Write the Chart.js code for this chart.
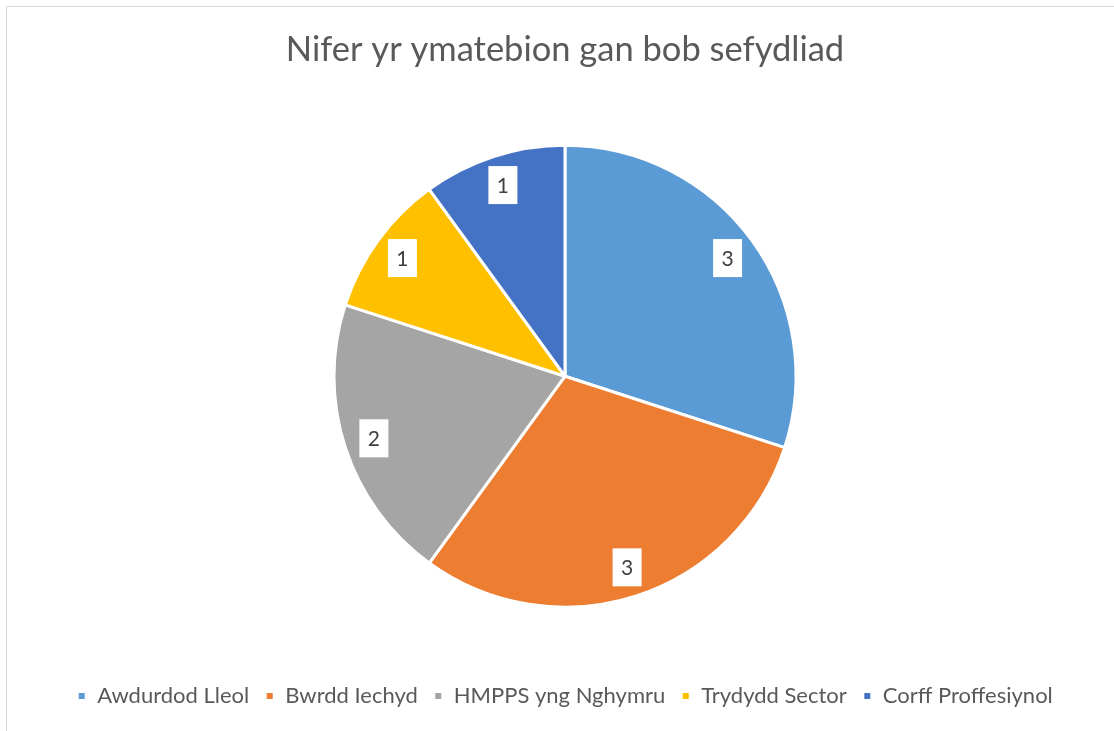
<!DOCTYPE html>
<html>
<head>
<meta charset="utf-8">
<script src="https://cdn.jsdelivr.net/npm/chart.js@4"></script>
<style>
  html, body { margin: 0; padding: 0; background: #fff; overflow: hidden; }
  #frame {
    position: absolute; left: 6px; top: 6px; width: 1130px; height: 750px;
    border: 1px solid #d9d9d9; box-sizing: border-box;
  }
  #wrap { position: absolute; left: 0; top: 0; width: 1114px; height: 731px; }
</style>
</head>
<body>
<div id="frame"></div>
<div id="wrap"><canvas id="pie"></canvas></div>
<script>
// ── Data ────────────────────────────────────────────
const titleText = 'Nifer yr ymatebion gan bob sefydliad'
const categories = ['Awdurdod Lleol', 'Bwrdd Iechyd', 'HMPPS yng Nghymru', 'Trydydd Sector', 'Corff Proffesiynol']
const responses = [3, 3, 2, 1, 1]
const sliceColors = ['#5b9bd5', '#ed7d31', '#a5a5a5', '#ffc000', '#4472c4']

// ── Data labels: white box with the value, inside each slice ──
const valueBoxes = {
  id: 'valueBoxes',
  afterDatasetsDraw(chart) {
    const { ctx } = chart
    const meta = chart.getDatasetMeta(0)
    ctx.save()
    ctx.font = '21px Lato, "Open Sans", sans-serif'
    ctx.textAlign = 'center'
    ctx.textBaseline = 'middle'
    meta.data.forEach((arc, i) => {
      const { x, y, startAngle, endAngle, outerRadius } = arc.getProps(['x', 'y', 'startAngle', 'endAngle', 'outerRadius'], true)
      const mid = (startAngle + endAngle) / 2
      const r = outerRadius * 0.87
      const px = x + Math.cos(mid) * r
      const py = y + Math.sin(mid) * r
      ctx.fillStyle = '#ffffff'
      ctx.fillRect(px - 14.5, py - 19, 29, 38)
      ctx.fillStyle = '#404040'
      ctx.fillText(String(chart.data.datasets[0].data[i]), px, py + 1)
    })
    ctx.restore()
  },
}

new Chart(document.getElementById('pie'), {
  type: 'pie',
  data: {
    labels: categories,
    datasets: [{
      data: responses,
      backgroundColor: sliceColors,
      borderColor: '#ffffff',
      borderWidth: 3,
      hoverOffset: 0,
      radius: 231,
    }],
  },
  options: {
    responsive: true,
    maintainAspectRatio: false,
    animation: false,
    layout: { padding: { left: 24, right: 8, top: 0, bottom: 14 } },
    plugins: {
      tooltip: { enabled: false },
      title: {
        display: true,
        text: titleText,
        color: '#595959',
        font: { family: 'Lato, "Open Sans", sans-serif', size: 34.5, weight: 'normal' },
        padding: { top: 29, bottom: 13 },
      },
      legend: {
        position: 'bottom',
        labels: {
          color: '#595959',
          font: { family: 'Lato, "Open Sans", sans-serif', size: 22 },
          boxWidth: 9,
          boxHeight: 9,
          padding: 16,
        },
      },
    },
  },
  plugins: [valueBoxes],
})
</script>
</body>
</html>
